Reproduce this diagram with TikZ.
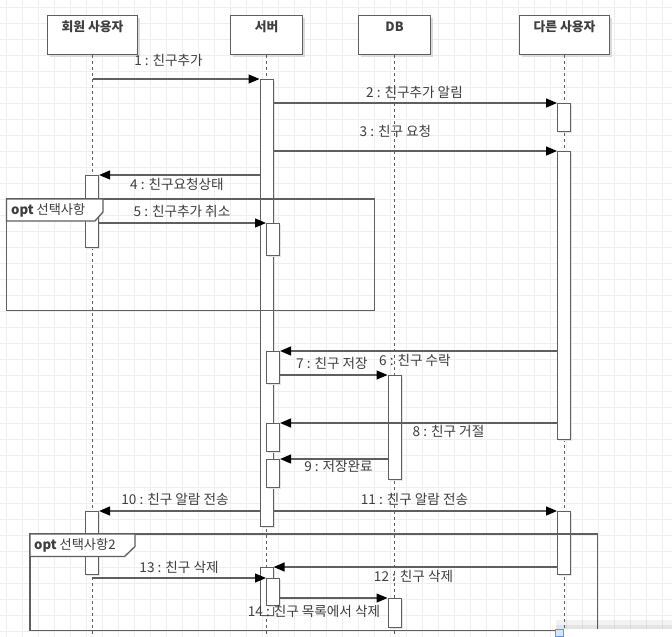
\documentclass[tikz,border=0pt]{standalone}
\usepackage{fontspec}
\setmainfont{Noto Sans CJK KR}
\usetikzlibrary{arrows.meta,shadows}
\definecolor{ln}{HTML}{5F5F5F}
\definecolor{tx}{HTML}{3E3E3E}
\definecolor{grd}{HTML}{EEEEEE}
\begin{document}
\begin{tikzpicture}[x=1pt,y=-1pt,
  hdr/.style={draw=ln, line width=1.2pt, fill=white,
    general shadow={fill=black!14, shadow xshift=2pt, shadow yshift=-2pt},
    minimum height=39pt, inner sep=0pt, anchor=north west},
  hdrtxt/.style={text=tx, font=\fontsize{12.8}{15}\selectfont\bfseries, inner sep=0pt},
  act/.style={draw=ln, line width=1.1pt, fill=white,
    general shadow={fill=black!10, shadow xshift=1.5pt, shadow yshift=-1.5pt},
    minimum width=13pt, inner sep=0pt, anchor=north west},
  life/.style={draw=ln, line width=1pt, dash pattern=on 3pt off 3pt},
  msg/.style={draw=ln, line width=1.3pt, -{Triangle[length=11pt,width=9pt,color=black]}},
  lbl/.style={text=tx, font=\fontsize{13.6}{16}\selectfont, inner sep=0pt},
  frame/.style={draw=ln, line width=1.3pt},
  tab/.style={draw=ln, line width=1.3pt, fill=white},
  tabtxt/.style={text=tx, font=\fontsize{13.2}{16}\selectfont, inner sep=0pt, anchor=west}
]
\useasboundingbox (0,0) rectangle (672,637);
\fill[white] (0,0) rectangle (672,637);
% grid
\foreach \i in {0,...,41} {\draw[grd, line width=1pt] (6.5+16*\i,0) -- (6.5+16*\i,637);}
\foreach \j in {0,...,39} {\draw[grd, line width=1pt] (0,7+16*\j) -- (672,7+16*\j);}

% headers
\node[hdr, minimum width=90pt] (h1) at (47,15) {};
\node[hdr, minimum width=72pt] (h2) at (230,15) {};
\node[hdr, minimum width=72pt] (h3) at (358,15) {};
\node[hdr, minimum width=90pt] (h4) at (519,15) {};
\node[hdrtxt] (h1t) at ([yshift=-12pt]h1.north) {회원 사용자};
\node[hdrtxt] (h2t) at ([yshift=-12pt]h2.north) {서버};
\node[hdrtxt] (h3t) at ([yshift=-12pt]h3.north) {DB};
\node[hdrtxt] (h4t) at ([yshift=-12pt]h4.north) {다른 사용자};

% lifeline ends
\coordinate (e1) at (h1.south |- 0,637);
\coordinate (e2) at (h2.south |- 0,637);
\coordinate (e3) at (h3.south |- 0,637);
\coordinate (e4) at (h4.south |- 0,637);
\draw[life] (h1.south) -- (e1);
\draw[life] (h2.south) -- (e2);
\draw[life] (h3.south) -- (e3);
\draw[life] (h4.south) -- (e4);

% activations
\node[act, minimum height=447pt] (s0) at (259.5,79) {};
\node[act, minimum height=72pt]  (a1) at (85,175) {};
\node[act, minimum height=28pt]  (d1) at (557,103) {};
\node[act, minimum height=288pt] (d2) at (557,151) {};
\node[act, minimum height=32pt]  (s1) at (266,223) {};
\node[act, minimum height=32pt]  (s2) at (266,351) {};
\node[act, minimum height=104pt] (db1) at (387.5,375) {};
\node[act, minimum height=28pt]  (s3) at (266,423) {};
\node[act, minimum height=28pt]  (s4) at (266,459) {};
\node[act, minimum height=63pt]  (a2) at (85,511) {};
\node[act, minimum height=63pt]  (d3) at (557,511) {};
\node[act, minimum height=48pt]  (s5) at (259.5,567) {};
\node[act, minimum height=27pt]  (s6) at (266,578) {};
\node[act, minimum height=29pt]  (db2) at (387.5,598) {};

% messages
\draw[msg] (h1.south |- s0.north west) -- (s0.north west);
\node[lbl] (m1) at (168.5,60) {1 : 친구추가};
\draw[msg] (s0.east |- d1.north west) -- (d1.north west);
\node[lbl] (m2) at (414.5,92.5) {2 : 친구추가 알림};
\draw[msg] (s0.east |- d2.north west) -- (d2.north west);
\node[lbl] (m3) at (395.5,131) {3 : 친구 요청};
\draw[msg] (s0.west |- a1.north east) -- (a1.north east);
\node[lbl] (m4) at (177,184) {4 : 친구요청상태};
\draw[msg] (a1.east |- s1.north west) -- (s1.north west);
\node[lbl] (m5) at (182,211.5) {5 : 친구추가 취소};
\draw[msg] (d2.west |- s2.north east) -- (s2.north east);
\node[lbl] (m6) at (415,360.5) {6 : 친구 수락};
\draw[msg] (s2.east |- db1.north west) -- (db1.north west);
\node[lbl] (m7) at (332,363.3) {7 : 친구 저장};
\draw[msg] (d2.west |- s3.north east) -- (s3.north east);
\node[lbl] (m8) at (448.5,431) {8 : 친구 거절};
\draw[msg] (db1.west |- s4.north east) -- (s4.north east);
\node[lbl] (m9) at (338.5,466.7) {9 : 저장완료};
\draw[msg] (s0.west |- a2.north east) -- (a2.north east);
\node[lbl] (m10) at (175,499) {10 : 친구 알람 전송};
\draw[msg] (s0.east |- d3.north west) -- (d3.north west);
\node[lbl] (m11) at (414.5,499) {11 : 친구 알람 전송};
\draw[msg] (d3.west |- s5.north east) -- (s5.north east);
\node[lbl] (m12) at (413.5,576.7) {12 : 친구 삭제};
\draw[msg] (h1.south |- s6.north west) -- (s6.north west);
\node[lbl] (m13) at (179,567) {13 : 친구 삭제};
\draw[msg] (s6.east |- db2.north west) -- (db2.north west);
\node[lbl] (m14) at (314,611.7) {14 : 친구 목록에서 삭제};

% frames
\draw[frame] (6.5,199) rectangle (374.5,310.5);
\draw[tab] (6.5,199) -- (103,199) -- (103,212) -- (95,221) -- (6.5,221) -- cycle;
\node[tabtxt] (f1) at (11,210) {\textbf{opt} 선택사항};
\draw[frame] (30,534) rectangle (597.5,630.5);
\draw[tab] (30,534) -- (135,534) -- (135,546.5) -- (124.5,556.5) -- (30,556.5) -- cycle;
\node[tabtxt] (f2) at (34,545.7) {\textbf{opt} 선택사항2};

% bottom-right overlay of the editor
\fill[black, opacity=0.05] (556,620) rectangle (672,628.7);
\fill[black, opacity=0.05] (556,624.5) rectangle (672,628.7);
\fill[white] (555,628.7) rectangle (672,637);
\draw[draw={rgb,255:red,91;green,155;blue,230}, fill={rgb,255:red,214;green,230;blue,250}, line width=0.8pt] (555.5,629.2) rectangle (563,636.5);
\end{tikzpicture}
\end{document}
